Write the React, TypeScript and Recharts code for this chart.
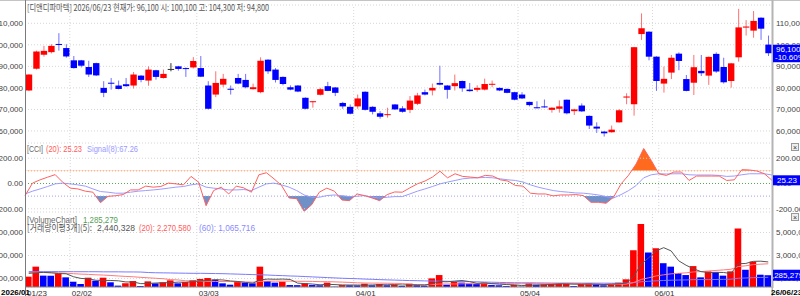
import React from "react";
import {
  Area,
  Bar,
  CartesianGrid,
  Cell,
  ComposedChart,
  Line,
  ReferenceLine,
  XAxis,
  YAxis,
} from "recharts";

// trading days shown on the chart (2026)
const dates = [
  "01/23", "01/26", "01/27", "01/28", "01/29", "01/30",
  "02/02", "02/03", "02/04", "02/05", "02/06", "02/09", "02/10", "02/11", "02/12", "02/13",
  "02/19", "02/20", "02/23", "02/24", "02/25", "02/26", "02/27",
  "03/03", "03/04", "03/05", "03/06", "03/09", "03/10", "03/11", "03/12", "03/13", "03/16",
  "03/17", "03/18", "03/19", "03/20", "03/23", "03/24", "03/25", "03/26", "03/27", "03/30", "03/31",
  "04/01", "04/02", "04/03", "04/06", "04/07", "04/08", "04/09", "04/10", "04/13", "04/14", "04/15",
  "04/16", "04/17", "04/20", "04/21", "04/22", "04/23", "04/24", "04/27", "04/28", "04/29", "04/30",
  "05/04", "05/06", "05/07", "05/08", "05/11", "05/12", "05/13", "05/14", "05/15", "05/18", "05/19",
  "05/20", "05/21", "05/22", "05/26", "05/27", "05/28", "05/29",
  "06/01", "06/02", "06/04", "06/05", "06/08", "06/09", "06/10", "06/11", "06/12", "06/15", "06/16",
  "06/17", "06/18", "06/19", "06/22", "06/23",
];

const opens = [
  78800, 88900, 95400, 96600, 100400, 98500, 92800, 92800, 89700, 91500,
  80000, 82400, 81100, 81700, 81100, 85700, 83400, 88200, 84600, 88800,
  90000, 89200, 89500, 89200, 81100, 76900, 81500, 79600, 84600, 83700,
  79400, 78000, 93100, 88500, 85100, 80300, 81100, 75400, 73600, 76800,
  80800, 80200, 73000, 71200, 71400, 78200, 71200, 68200, 67500, 72300,
  70500, 69800, 72600, 78000, 78800, 82300, 81100, 80800, 83200, 79200,
  79100, 79200, 81700, 80000, 79500, 78000, 76900, 73500, 71000, 71400,
  69800, 70300, 74500, 69200, 71800, 67000, 62000, 59700, 59400, 64000,
  75500, 72400, 105000, 106100, 94500, 82000, 87100, 95900, 84100, 82400,
  87900, 85700, 95800, 89700, 83200, 94200, 108000, 106600, 112600, 100100,
];
const highs = [
  86400, 97300, 99500, 100300, 105400, 100300, 94800, 93000, 92600, 91700,
  83100, 84600, 83400, 84600, 87400, 85900, 90000, 88400, 88500, 91500,
  90200, 89500, 94300, 94800, 83100, 87700, 86500, 81100, 86500, 86500,
  82000, 94200, 93300, 89200, 85300, 81200, 81300, 75600, 73900, 80000,
  82800, 80400, 73500, 72300, 76900, 78400, 71500, 69200, 70800, 72500,
  71500, 76200, 77700, 79200, 82000, 90300, 81300, 86200, 83400, 82300,
  81200, 84300, 83400, 80200, 79800, 78200, 78000, 73600, 73800, 74600,
  71000, 74200, 74600, 70300, 72800, 67200, 64000, 59900, 62500, 70200,
  77500, 99000, 114600, 106300, 94700, 89900, 95300, 96500, 86000, 95300,
  95300, 94600, 96500, 94000, 91600, 116700, 111500, 115700, 112800, 104300,
];
const lows = [
  78500, 88500, 94500, 96000, 97300, 94000, 89000, 89500, 85100, 85500,
  75700, 79200, 79300, 80500, 79700, 82600, 81000, 83800, 84300, 87700,
  88000, 85100, 89000, 85000, 70000, 75700, 80300, 76900, 81700, 79800,
  79200, 77500, 86500, 82500, 81200, 78900, 78000, 70000, 70800, 76500,
  78500, 76200, 70300, 67700, 70300, 69500, 67700, 65700, 66200, 69800,
  68500, 68300, 72000, 76500, 76500, 81200, 75000, 78800, 78200, 78200,
  78200, 78800, 80300, 78500, 77500, 74200, 74800, 71400, 70500, 70800,
  68500, 68500, 67700, 67400, 68800, 60900, 59100, 57400, 59200, 63800,
  72400, 67100, 102300, 92800, 78600, 77800, 84100, 88200, 78400, 76700,
  85500, 81400, 87000, 82000, 80100, 92200, 104300, 103300, 102300, 94800,
];
const closes = [
  86200, 96900, 97200, 99500, 100000, 94600, 89200, 90300, 86200, 85800,
  77700, 82000, 79500, 80800, 86200, 83700, 88500, 85100, 86500, 88800,
  88800, 88900, 92500, 85200, 70300, 82300, 84200, 79400, 82000, 80300,
  80300, 92600, 87700, 83700, 81800, 79200, 78300, 70300, 73800, 79400,
  78600, 77700, 71400, 68000, 75100, 69800, 68900, 66600, 67800, 70000,
  68900, 74100, 76500, 76900, 80000, 81500, 79100, 82200, 79800, 78500,
  80000, 81800, 81900, 78800, 77700, 74500, 75100, 72000, 70800, 71200,
  70800, 71400, 68200, 70000, 69100, 62500, 61100, 58900, 60600, 69600,
  76000, 98900, 107700, 94500, 83200, 84200, 94000, 92500, 78600, 89600,
  86800, 94400, 87600, 82600, 91400, 108100, 108500, 111100, 107500, 96100,
];

const volumes = [
  1160000, 2030000, 1250000, 1240000, 1450000, 1100000, 720000, 520000, 1070000, 810000,
  1070000, 670000, 380000, 580000, 780000, 350000, 750000, 580000, 670000, 840000,
  580000, 700000, 870000, 960000, 1040000, 900000, 580000, 460000, 720000, 640000,
  580000, 2030000, 780000, 640000, 720000, 430000, 420000, 580000, 430000, 410000,
  640000, 290000, 430000, 410000, 400000, 550000, 410000, 520000, 410000, 460000,
  350000, 550000, 410000, 380000, 1010000, 1300000, 460000, 720000, 640000, 550000,
  520000, 640000, 430000, 410000, 350000, 430000, 290000, 610000, 460000, 490000,
  550000, 560000, 570000, 350000, 520000, 580000, 520000, 410000, 520000, 640000,
  930000, 3450000, 5750000, 3260000, 3620000, 2330000, 2030000, 1480000, 1300000, 2080000,
  1100000, 1620000, 1570000, 1250000, 1620000, 5350000, 1760000, 2470000, 1330000, 1285279,
];

// moving-average readings for days whose window starts before the chart
const ma5Early = [1450000, 1500000, 1530000, 1500000];
const ma20Early = [
  1500000, 1520000, 1520000, 1500000, 1500000, 1460000, 1420000, 1380000, 1360000, 1320000,
  1300000, 1260000, 1220000, 1180000, 1150000, 1100000, 1060000, 1020000, 980000,
];
const ma60Early = [
  1600000, 1600000, 1600000, 1600000, 1600000, 1600000, 1590000, 1590000, 1590000, 1590000,
  1580000, 1580000, 1580000, 1570000, 1570000, 1560000, 1520000, 1500000, 1490000, 1480000,
  1470000, 1460000, 1450000, 1450000, 1440000, 1430000, 1420000, 1400000, 1380000, 1360000,
  1340000, 1320000, 1300000, 1270000, 1250000, 1220000, 1200000, 1170000, 1140000, 1110000,
  1080000, 1050000, 1020000, 1000000, 980000, 950000, 930000, 900000, 880000, 860000,
  840000, 820000, 810000, 790000, 780000, 770000, 760000, 740000, 730000,
];
const maLegend = ["2,440,328", "2,270,580", "1,065,716"];

const cciValues = [
  -97, 3, 29, 50, 70, 10, -37, -43, -61, -69,
  -152, -102, -97, -88, -51, -51, -21, -29, -24, 3,
  -3, -11, 56, 11, -176, -56, -29, -83, -21, -35,
  -69, 69, 85, 37, -16, -115, -120, -221, -168, -69,
  -37, -61, -131, -136, -83, -96, -115, -136, -88, -67,
  -69, -35, -3, 19, 51, 97, 45, 77, 56, 51,
  45, 64, 59, 29, 19, -16, -21, -77, -83, -83,
  -98, -91, -91, -88, -96, -149, -149, -157, -109, -3,
  66, 155, 277, 182, 77, 64, 91, 91, 24, 59,
  59, 59, 59, 24, 29, 109, 107, 99, 77, 25.23,
];
const signalValues = [
  -83, -61, -43, -24, -3, 3, -3, -11, -21, -43,
  -64, -69, -77, -77, -69, -61, -56, -51, -45, -37,
  -29, -24, -11, -3, -29, -37, -43, -51, -51, -48,
  -56, -29, -3, 3, -11, -29, -56, -91, -109, -109,
  -96, -91, -96, -104, -101, -96, -109, -115, -109, -104,
  -104, -83, -61, -43, -24, -3, 11, 24, 37, 43,
  45, 48, 45, 37, 29, 24, 11, -11, -29, -43,
  -56, -64, -69, -75, -77, -83, -91, -104, -115, -88,
  -56, -16, 45, 69, 77, 75, 77, 77, 69, 67,
  67, 67, 64, 56, 59, 69, 77, 77, 77, 67.26,
];

const monthStarts = ["02/02", "03/03", "04/01", "05/04", "06/01"];
const dateTicks = ["01/23", ...monthStarts];
const priceTicks = [60000, 70000, 80000, 90000, 100000, 110000];
const cciTicks = [-200, 0, 200];
const volumeTicks = [1000000, 3000000, 5000000];

const RED = "#ff0000";
const BLUE = "#0000ff";
const NUM_FONT = '"Liberation Sans", Arial, sans-serif';
const KR_FONT = '"Noto Sans CJK KR", "Liberation Sans", sans-serif';

const W = 800;
const LEFT_W = 25;
const RIGHT_W = 28;
const PLOT_W = W - LEFT_W - RIGHT_W;
const BAND = PLOT_W / dates.length;

const PRICE_MIN = 54400;
const PRICE_MAX = 118500;
const PRICE_TOP = 5;
const PRICE_H = 138;

const CCI_MIN = -226;
const CCI_MAX = 305;
const CCI_DIV_TOP = 143;
const CCI_H = 67;
const CCI_PX = CCI_H / (CCI_MAX - CCI_MIN);

const VOL_MIN = 261000;
const VOL_MAX = 6783000;
const VOL_DIV_TOP = 210;
const VOL_H = 75;

const movingAvg = (n: number, early: number[]) =>
  volumes.map((_, i) =>
    i < n - 1 ? early[i] : volumes.slice(i - n + 1, i + 1).reduce((a, b) => a + b, 0) / n
  );
const ma5 = movingAvg(5, ma5Early);
const ma20 = movingAvg(20, ma20Early);
const ma60 = movingAvg(60, ma60Early);

const rows = dates.map((date, i) => ({
  date,
  open: opens[i],
  high: highs[i],
  low: lows[i],
  close: closes[i],
  range: [lows[i], highs[i]],
  volume: volumes[i],
  ma5: ma5[i],
  ma20: ma20[i],
  ma60: ma60[i],
  cci: cciValues[i],
  signal: signalValues[i],
}));

const tickStyle = { fontSize: 8, fill: "#444", fontFamily: NUM_FONT };
const gridStroke = "#d6d6d6";

const Candle = (props: any) => {
  const { x, y, width, height, payload } = props;
  const { open, close, high, low } = payload;
  const top = Math.min(y, y + height);
  const h = Math.abs(height);
  const ratio = h / (high - low);
  const cx = x + width / 2;
  const bodyTop = top + (high - Math.max(open, close)) * ratio;
  const bodyBot = top + (high - Math.min(open, close)) * ratio;
  const color = close > open ? RED : close < open ? BLUE : "#333";
  const wick = close > open ? "#ff7070" : close < open ? "#7070ff" : "#333";
  return (
    <g>
      <line x1={cx} x2={cx} y1={top} y2={top + h} stroke={wick} strokeWidth={1} />
      <rect x={cx - 3.2} y={bodyTop} width={6.4} height={Math.max(bodyBot - bodyTop, 1)} fill={color} />
    </g>
  );
};

const monthLines = monthStarts.map((d) => (
  <ReferenceLine key={d} x={d} position="start" stroke={gridStroke} strokeDasharray="1 2" />
));

const fmtNum = (v: number) => v.toLocaleString("en-US");

const PriceChart = () => (
  <ComposedChart width={W} height={145} data={rows} margin={{ top: PRICE_TOP, right: 0, bottom: 2, left: 0 }}>
    <CartesianGrid vertical={false} stroke={gridStroke} strokeDasharray="1 2" />
    <XAxis dataKey="date" hide />
    <YAxis width={LEFT_W} domain={[PRICE_MIN, PRICE_MAX]} ticks={priceTicks} interval={0} tickFormatter={fmtNum}
      tick={tickStyle} tickLine={false} tickSize={0} tickMargin={2} axisLine={false} allowDataOverflow />
    <YAxis yAxisId="r" orientation="right" width={RIGHT_W} domain={[PRICE_MIN, PRICE_MAX]} ticks={priceTicks}
      interval={0} tickFormatter={fmtNum} tick={{ ...tickStyle, textAnchor: "start" }} tickLine={false}
      tickSize={0} tickMargin={4} axisLine={false} allowDataOverflow />
    {monthLines}
    <Bar dataKey="range" shape={Candle} barSize={6} isAnimationActive={false} />
  </ComposedChart>
);

const CciFill = ({ up }: { up: boolean }) => {
  const topGap = up ? 0 : (CCI_MAX + 100) * CCI_PX;
  const botGap = up ? (100 - CCI_MIN) * CCI_PX : 0;
  return (
    <ComposedChart width={W} height={70} data={rows}
      margin={{ top: 2 + topGap, right: RIGHT_W, bottom: 1 + botGap, left: LEFT_W }}>
      <XAxis dataKey="date" hide />
      <YAxis hide domain={up ? [100, CCI_MAX] : [CCI_MIN, -100]} allowDataOverflow />
      <Area dataKey="cci" type="linear" baseValue={up ? 100 : -100} stroke="none"
        fill={up ? "#ff6a1f" : "#7090c8"} fillOpacity={1} isAnimationActive={false} />
    </ComposedChart>
  );
};

const CciChart = () => (
  <ComposedChart width={W} height={70} data={rows} margin={{ top: 2, right: 0, bottom: 1, left: 0 }}>
    <XAxis dataKey="date" hide />
    <YAxis width={LEFT_W} domain={[CCI_MIN, CCI_MAX]} ticks={cciTicks} interval={0}
      tickFormatter={(v: number) => v.toFixed(2)} tick={tickStyle} tickLine={false} tickSize={0}
      tickMargin={2} axisLine={false} allowDataOverflow />
    <YAxis yAxisId="r" orientation="right" width={RIGHT_W} domain={[CCI_MIN, CCI_MAX]} ticks={cciTicks}
      interval={0} tickFormatter={(v: number) => v.toFixed(2)} tick={{ ...tickStyle, textAnchor: "start" }}
      tickLine={false} tickSize={0} tickMargin={4} axisLine={false} allowDataOverflow />
    {monthLines}
    <ReferenceLine y={200} stroke={gridStroke} strokeDasharray="1 2" />
    <ReferenceLine y={-200} stroke={gridStroke} strokeDasharray="1 2" />
    <ReferenceLine y={100} stroke="#f5a070" strokeDasharray="1 2" />
    <ReferenceLine y={0} stroke="#50a850" strokeDasharray="1 2" />
    <ReferenceLine y={-100} stroke="#a0a0f0" strokeDasharray="1 2" />
    <Line dataKey="signal" type="linear" stroke="#9c9cff" strokeWidth={1} dot={false} isAnimationActive={false} />
    <Line dataKey="cci" type="linear" stroke="#ff6060" strokeWidth={1} dot={false} isAnimationActive={false} />
  </ComposedChart>
);

const DateTick = (props: any) => {
  const { x, y, payload } = props;
  return (
    <text x={x - BAND / 2 + 2} y={y + 7} fontSize={8} fill="#333" fontFamily={NUM_FONT} textAnchor="start">
      {payload.value}
    </text>
  );
};

const VolumeChart = () => (
  <ComposedChart width={W} height={86} data={rows} margin={{ top: 2, right: 0, bottom: 0, left: 0 }}>
    <CartesianGrid vertical={false} stroke={gridStroke} strokeDasharray="1 2" />
    <XAxis dataKey="date" height={9} ticks={dateTicks} interval={0} tick={DateTick} tickLine={false}
      tickSize={0} axisLine={{ stroke: "#888" }} />
    <YAxis width={LEFT_W} domain={[VOL_MIN, VOL_MAX]} ticks={volumeTicks} interval={0} tickFormatter={fmtNum}
      tick={tickStyle} tickLine={false} tickSize={0} tickMargin={2} axisLine={false} allowDataOverflow />
    <YAxis yAxisId="r" orientation="right" width={RIGHT_W} domain={[VOL_MIN, VOL_MAX]} ticks={volumeTicks}
      interval={0} tickFormatter={fmtNum} tick={{ ...tickStyle, textAnchor: "start" }} tickLine={false}
      tickSize={0} tickMargin={4} axisLine={false} allowDataOverflow />
    {monthLines}
    <Bar dataKey="volume" barSize={6.6} isAnimationActive={false}>
      {rows.map((r, i) => (
        <Cell key={r.date} fill={i === 0 || r.volume >= volumes[i - 1] ? RED : BLUE} />
      ))}
    </Bar>
    <Line dataKey="ma60" type="linear" stroke="#7a7aff" strokeWidth={1} dot={false} isAnimationActive={false} />
    <Line dataKey="ma20" type="linear" stroke="#ff7a7a" strokeWidth={1} dot={false} isAnimationActive={false} />
    <Line dataKey="ma5" type="linear" stroke="#555" strokeWidth={1} dot={false} isAnimationActive={false} />
  </ComposedChart>
);

const Overlay = () => {
  const last = closes.length - 1;
  const prev = closes[last - 1];
  const pct = ((closes[last] - prev) / prev) * 100;
  const priceY = PRICE_TOP + ((PRICE_MAX - closes[last]) / (PRICE_MAX - PRICE_MIN)) * PRICE_H;
  const cciY = CCI_DIV_TOP + 2 + (CCI_MAX - cciValues[last]) * CCI_PX;
  const volY = VOL_DIV_TOP + 2 + ((VOL_MAX - volumes[last]) / (VOL_MAX - VOL_MIN)) * VOL_H;
  const rx = LEFT_W + PLOT_W + 1;
  const header = `[디앤디파마텍] 2026/06/${dates[last].slice(3)} 현재가: ${fmtNum(closes[last])} 시: ${fmtNum(
    opens[last]
  )} 고: ${fmtNum(highs[last])} 저: ${fmtNum(lows[last])}`;
  const t = (x: number, y: number, w: number, fill: string, s: string, font = KR_FONT) => (
    <text x={x} y={y} fontSize={9} fill={fill} fontFamily={font} textLength={w} lengthAdjust="spacingAndGlyphs">
      {s}
    </text>
  );
  return (
    <svg width={W} height={296} style={{ position: "absolute", left: 0, top: 0 }}>
      <defs>
        <clipPath id="volBadge">
          <rect x={rx} y={volY - 5.5} width={W - rx} height={11} />
        </clipPath>
      </defs>
      <line x1={0} x2={W} y1={0.5} y2={0.5} stroke="#c4c4c4" />
      <line x1={LEFT_W + 0.5} x2={LEFT_W + 0.5} y1={0} y2={296} stroke="#7a7a7a" />
      <line x1={LEFT_W + PLOT_W + 0.5} x2={LEFT_W + PLOT_W + 0.5} y1={0} y2={296} stroke="#b4b4b4" strokeWidth={2} />
      {t(27, 10.5, 242, "#555", header)}
      {t(27, 151.5, 16, "#666", "[CCI]", NUM_FONT)}
      {t(46, 151.5, 36, "#ff5a5a", `(20): ${cciValues[last].toFixed(2)}`, NUM_FONT)}
      {t(87, 151.5, 51, "#9a9aff", `Signal(8):${signalValues[last].toFixed(2)}`, NUM_FONT)}
      {t(27, 222.5, 50, "#666", "[VolumeChart]", NUM_FONT)}
      {t(83, 222.5, 35, "#55a055", fmtNum(volumes[last]), NUM_FONT)}
      {t(27, 230.5, 65, "#555", "[거래량이평3개](5):")}
      {t(97, 230.5, 38, "#555", maLegend[0], NUM_FONT)}
      {t(139, 230.5, 52, "#ff5a5a", `(20): ${maLegend[1]}`, NUM_FONT)}
      {t(199, 230.5, 56, "#8a8aff", `(60): ${maLegend[2]}`, NUM_FONT)}

      <rect x={rx} y={priceY - 8.5} width={W - rx} height={17.5} fill={BLUE} />
      <text x={rx + 3} y={priceY - 1.5} fontSize={8} fill="#fff" fontFamily={NUM_FONT}>{fmtNum(closes[last])}</text>
      <text x={rx + 2} y={priceY + 7} fontSize={8} fill="#fff" fontFamily={NUM_FONT}>{`${pct.toFixed(2)}%`}</text>

      <rect x={rx} y={cciY - 5} width={W - rx} height={10} fill={BLUE} />
      <text x={rx + 4} y={cciY + 3} fontSize={8} fill="#fff" fontFamily={NUM_FONT}>{cciValues[last].toFixed(2)}</text>

      <rect x={rx} y={volY - 5.5} width={W - rx} height={11} fill={BLUE} />
      <text x={rx - 5.5} y={volY + 3} fontSize={8} fill="#fff" fontFamily={NUM_FONT} clipPath="url(#volBadge)">
        {fmtNum(volumes[last])}
      </text>

      <rect x={791.5} y={143.5} width={7} height={7} fill="#eee" stroke="#999" />
      <text x={795} y={149.5} fontSize={7} textAnchor="middle" fill="#333" fontFamily={NUM_FONT}>×</text>
      <rect x={791.5} y={213.5} width={7} height={7} fill="#eee" stroke="#999" />
      <text x={795} y={219.5} fontSize={7} textAnchor="middle" fill="#333" fontFamily={NUM_FONT}>×</text>

      <rect x={0} y={288} width={LEFT_W} height={8} fill="#fff" />
      <text x={1} y={295} fontSize={8} fontWeight="bold" fill="#000" fontFamily={NUM_FONT}>2026/01</text>
      <rect x={LEFT_W + PLOT_W + 1} y={288} width={W - LEFT_W - PLOT_W} height={8} fill="#fff" />
      <text x={771} y={295} fontSize={8} fontWeight="bold" fill="#000" fontFamily={NUM_FONT}>
        {`26/06/${dates[last].slice(3)}`}
      </text>
    </svg>
  );
};

const App: React.FC = () => (
  <div style={{ position: "absolute", left: 0, top: 0, width: W, height: 296, background: "#fff", overflow: "hidden" }}>
    <div style={{ position: "absolute", left: 0, top: 0 }}>
      <PriceChart />
    </div>
    <div style={{ position: "absolute", left: 0, top: CCI_DIV_TOP }}>
      <CciFill up />
    </div>
    <div style={{ position: "absolute", left: 0, top: CCI_DIV_TOP }}>
      <CciFill up={false} />
    </div>
    <div style={{ position: "absolute", left: 0, top: CCI_DIV_TOP }}>
      <CciChart />
    </div>
    <div style={{ position: "absolute", left: 0, top: VOL_DIV_TOP }}>
      <VolumeChart />
    </div>
    <Overlay />
  </div>
);

export default App;
